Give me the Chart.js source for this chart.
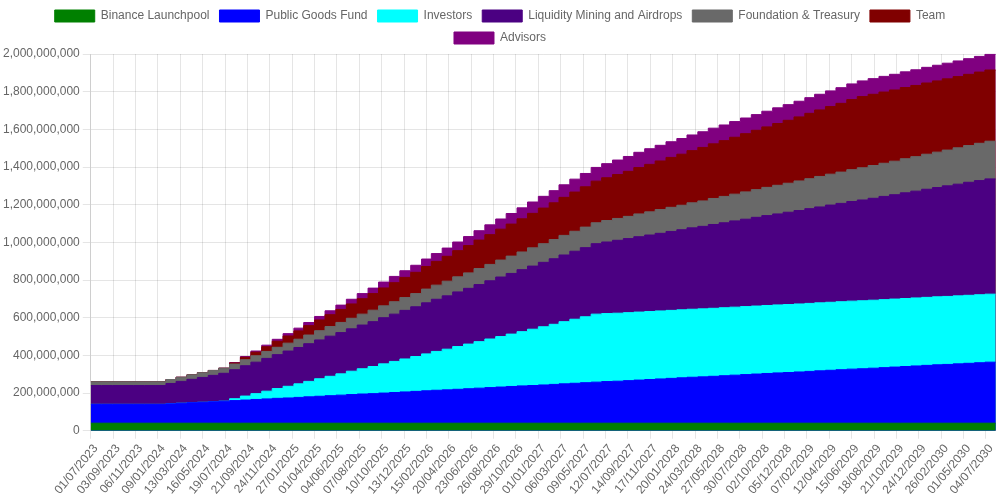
<!DOCTYPE html>
<html>
<head>
<meta charset="utf-8">
<script src="https://cdn.jsdelivr.net/npm/chart.js@4"></script>
<style>
  html, body { margin: 0; padding: 0; background: #fff; }
  #wrap { width: 1000px; height: 500px; }
</style>
</head>
<body>
<div id="wrap"><canvas id="unlockChart"></canvas></div>
<script>
// unlock dates (1st of each month), last entry just closes the final step
let months = [
    '2023-07', '2023-08', '2023-09', '2023-10', '2023-11', '2023-12',
    '2024-01', '2024-02', '2024-03', '2024-04', '2024-05', '2024-06', '2024-07', '2024-08', '2024-09', '2024-10', '2024-11', '2024-12',
    '2025-01', '2025-02', '2025-03', '2025-04', '2025-05', '2025-06', '2025-07', '2025-08', '2025-09', '2025-10', '2025-11', '2025-12',
    '2026-01', '2026-02', '2026-03', '2026-04', '2026-05', '2026-06', '2026-07', '2026-08', '2026-09', '2026-10', '2026-11', '2026-12',
    '2027-01', '2027-02', '2027-03', '2027-04', '2027-05', '2027-06', '2027-07', '2027-08', '2027-09', '2027-10', '2027-11', '2027-12',
    '2028-01', '2028-02', '2028-03', '2028-04', '2028-05', '2028-06', '2028-07', '2028-08', '2028-09', '2028-10', '2028-11', '2028-12',
    '2029-01', '2029-02', '2029-03', '2029-04', '2029-05', '2029-06', '2029-07', '2029-08', '2029-09', '2029-10', '2029-11', '2029-12',
    '2030-01', '2030-02', '2030-03', '2030-04', '2030-05', '2030-06', '2030-07', '2030-08'
];

// unlocked tokens per allocation, in millions
let launchpool = [
    40, 40, 40, 40, 40, 40, 40, 40, 40, 40,
    40, 40, 40, 40, 40, 40, 40, 40, 40, 40,
    40, 40, 40, 40, 40, 40, 40, 40, 40, 40,
    40, 40, 40, 40, 40, 40, 40, 40, 40, 40,
    40, 40, 40, 40, 40, 40, 40, 40, 40, 40,
    40, 40, 40, 40, 40, 40, 40, 40, 40, 40,
    40, 40, 40, 40, 40, 40, 40, 40, 40, 40,
    40, 40, 40, 40, 40, 40, 40, 40, 40, 40,
    40, 40, 40, 40, 40, 40
];
let publicGoods = [
    100, 100, 100, 100, 100, 100, 100,
    103, 106, 109, 111, 114, 117, 120, 123, 126, 129,
    132, 134, 137, 140, 143, 146, 149, 152, 155, 157,
    160, 163, 166, 169, 172, 175, 177, 180, 183, 186,
    189, 192, 195, 198, 200, 203, 206, 209, 212, 215,
    218, 221, 223, 226, 229, 232, 235, 238, 241, 244,
    246, 249, 252, 255, 258, 261, 264, 267, 269, 272,
    275, 278, 281, 284, 287, 289, 292, 295, 298, 301,
    304, 307, 310, 312, 315, 318, 321, 324,
    324
];
let investors = [
    0, 0, 0, 0, 0, 0, 0, 0, 0, 0, 0, 0, 0,
    10, 21, 31, 41, 52, 62, 72, 82, 93, 103,
    113, 124, 134, 144, 155, 165, 175, 185, 196, 206,
    216, 227, 237, 247, 258, 268, 278, 288, 299, 309,
    319, 330, 340, 350, 361,
    361, 361, 361, 361, 361, 361, 361, 361, 361, 361,
    361, 361, 361, 361, 361, 361, 361, 361, 361, 361,
    361, 361, 361, 361, 361, 361, 361, 361, 361, 361,
    361, 361, 361, 361, 361, 361, 361, 361
];
let liquidity = [
    100, 100, 100, 100, 100, 100, 100,
    108, 116, 124, 132, 140, 148,
    154, 161, 167, 174, 180, 187, 193, 200, 206, 213,
    219, 225, 232, 238, 245, 251, 258, 264, 271, 277,
    283, 290, 296, 303, 309, 316, 322, 329, 335, 342,
    348, 354, 361, 367, 374, 380, 387, 393, 400, 406,
    412, 419, 425, 432, 438, 445, 451, 458, 464, 471,
    477, 483, 490, 496, 503, 509, 516, 522, 529, 535,
    541, 548, 554, 561, 567, 574, 580, 587, 593, 600,
    606, 612,
    612
];
let foundation = [
    20, 20, 20, 20, 20, 20, 20,
    21, 22, 24, 25, 26, 27,
    30, 32, 34, 37, 39, 42, 44, 46, 49, 51,
    54, 56, 58, 61, 63, 66, 68, 70, 73, 75,
    78, 80, 82, 85, 87, 90, 92, 94, 97, 99,
    102, 104, 106, 109, 111, 114, 116, 118, 121, 123,
    126, 128, 130, 133, 135, 138, 140, 142, 145, 147,
    150, 152, 154, 157, 159, 162, 164, 166, 169, 171,
    174, 176, 178, 181, 183, 186, 188, 190, 193, 195,
    198, 200,
    200
];
let team = [
    0, 0, 0, 0, 0, 0, 0, 0, 0, 0, 0, 0, 0,
    6, 13, 19, 25, 32, 38, 44, 50, 57, 63,
    69, 76, 82, 88, 95, 101, 107, 113, 120, 126,
    132, 139, 145, 151, 158, 164, 170, 176, 183, 189,
    195, 202, 208, 214, 221, 227, 233, 239, 246, 252,
    258, 265, 271, 277, 284, 290, 296, 302, 309, 315,
    321, 328, 334, 340, 347, 353, 359, 365, 372, 378,
    378, 378, 378, 378, 378, 378, 378, 378, 378, 378, 378, 378, 378
];
let advisors = [
    0, 0, 0, 0, 0, 0, 0, 0, 0, 0, 0, 0, 0,
    2.1, 4.2, 6.2, 8.3, 10.4, 12.5, 14.6, 16.6, 18.7, 20.8,
    22.9, 25, 27, 29.1, 31.2, 33.3, 35.4, 37.4, 39.5, 41.6,
    43.7, 45.8, 47.8, 49.9, 52, 54.1, 56.2, 58.2, 60.3, 62.4,
    64.5, 66.6, 68.6, 70.7, 72.8, 74.9, 77, 79, 81.1, 83.2,
    83.2, 83.2, 83.2, 83.2, 83.2, 83.2, 83.2, 83.2, 83.2, 83.2,
    83.2, 83.2, 83.2, 83.2, 83.2, 83.2, 83.2, 83.2, 83.2, 83.2,
    83.2, 83.2, 83.2, 83.2, 83.2, 83.2, 83.2, 83.2, 83.2, 83.2,
    83.2, 83.2, 83.2
];

let series = [
    { label: 'Binance Launchpool', values: launchpool, color: '#008000' },
    { label: 'Public Goods Fund', values: publicGoods, color: '#0000ff' },
    { label: 'Investors', values: investors, color: '#00ffff' },
    { label: 'Liquidity Mining and Airdrops', values: liquidity, color: '#4b0082' },
    { label: 'Foundation & Treasury', values: foundation, color: '#696969' },
    { label: 'Team', values: team, color: '#800000' },
    { label: 'Advisors', values: advisors, color: '#800080' }
];

// x axis counts days from the first unlock
const DAY = 86400000;
const start = Date.UTC(2023, 6, 1);

function dayOf(m) {
    let [y, mo] = m.split('-').map(Number);
    return Math.round((Date.UTC(y, mo - 1, 1) - start) / DAY);
}

function pad(n) {
    return String(n).padStart(2, '0');
}

function dateLabel(day) {
    let d = new Date(start + day * DAY);
    return pad(d.getUTCDate()) + '/' + pad(d.getUTCMonth() + 1) + '/' + d.getUTCFullYear();
}

let days = months.map(dayOf);

let datasets = series.map(s => ({
    label: s.label,
    data: s.values.map((v, i) => ({ x: days[i], y: v * 1e6 })),
    backgroundColor: s.color,
    borderColor: s.color,
    borderWidth: 1,
    fill: 'origin',
    stepped: true,
    pointRadius: 0,
    pointHoverRadius: 0
}));

let ctx = document.getElementById('unlockChart').getContext('2d');

new Chart(ctx, {
    type: 'line',
    data: { datasets: datasets },
    options: {
        responsive: true,
        maintainAspectRatio: false,
        animation: false,
        plugins: {
            legend: { position: 'top' },
            tooltip: { enabled: false }
        },
        scales: {
            x: {
                type: 'linear',
                min: 0,
                max: days[days.length - 1],
                ticks: {
                    stepSize: 64,
                    autoSkip: false,
                    includeBounds: false,
                    maxRotation: 50,
                    minRotation: 50,
                    labelOffset: 5,
                    callback: value => dateLabel(value)
                }
            },
            y: {
                stacked: true,
                beginAtZero: true
            }
        }
    }
});
</script>
</body>
</html>
